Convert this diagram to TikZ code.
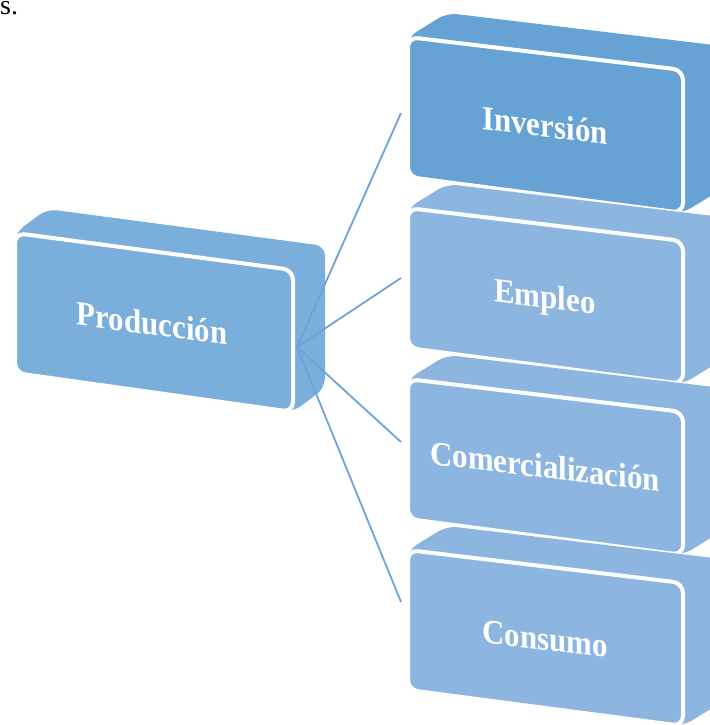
\documentclass[tikz,border=0pt]{standalone}
\usepackage{fontspec}
\setmainfont{Liberation Serif}
\definecolor{oscuro}{HTML}{67A2D5}
\definecolor{claro}{HTML}{8CB5E0}
\definecolor{medio}{HTML}{7AAEDB}
\definecolor{linea}{HTML}{6FA3D8}
\tikzset{
  cuerpo/.style={rounded corners=10bp},
  cara/.style={draw=white, line width=4bp, rounded corners=10bp},
  rotulo/.style={anchor=base, text=white, inner sep=0pt,
    font=\fontsize{31}{31}\selectfont\bfseries},
  enlace/.style={draw=linea, line width=1.8bp},
}
\begin{document}
\begin{tikzpicture}[x=1bp, y=-1bp]
            \clip (0, 0) rectangle (710, 725);

            \node[anchor=base west, inner sep=0pt, font=\fontsize{28}{28}\selectfont] (frase) at(0, 15){s.};

            % bloque de la izquierda
            \fill[medio, cuerpo](15, 233) -- (47, 209) -- (325, 246) -- (325, 388) -- (293, 412) -- (15, 373) -- cycle;
            \filldraw[fill=medio, cara](15, 233) -- (293, 270) -- (293, 412) -- (15, 373) -- cycle;
            \node[rotulo, yslant=-0.133, yscale=1.1] (prod) at(152, 335){Producción};

            \coordinate (centro) at(297, 347);
            \coordinate (inv-w) at(401, 113);
            \coordinate (emp-w) at(401, 278);
            \coordinate (com-w) at(401, 442);
            \coordinate (con-w) at(401, 602);

            \draw[enlace](centro) -- (inv-w);
            \draw[enlace](centro) -- (emp-w);
            \draw[enlace](centro) -- (com-w);
            \draw[enlace](centro) -- (con-w);

            % bloques de la derecha
            \fill[oscuro, cuerpo](408, 37) -- (447, 13) -- (722, 46) -- (722, 189) -- (683, 213) -- (408, 177) -- cycle;
            \filldraw[fill=oscuro, cara](408, 37) -- (683, 70) -- (683, 213) -- (408, 177) -- cycle;
            \node[rotulo, yslant=-0.12, yscale=1.1] (inv) at(545, 137){Inversión};

            \fill[claro, cuerpo](408, 208) -- (447, 184) -- (722, 217) -- (722, 360) -- (683, 384) -- (408, 348) -- cycle;
            \filldraw[fill=claro, cara](408, 208) -- (683, 241) -- (683, 384) -- (408, 348) -- cycle;
            \node[rotulo, yslant=-0.12, yscale=1.1] (emp) at(545, 308){Empleo};

            \fill[claro, cuerpo](408, 379) -- (447, 355) -- (722, 388) -- (722, 531) -- (683, 555) -- (408, 519) -- cycle;
            \filldraw[fill=claro, cara](408, 379) -- (683, 412) -- (683, 555) -- (408, 519) -- cycle;
            \node[rotulo, yslant=-0.12, yscale=1.1] (com) at(545, 478){Comercialización};

            \fill[claro, cuerpo](408, 550) -- (447, 526) -- (722, 559) -- (722, 702) -- (683, 726) -- (408, 690) -- cycle;
            \filldraw[fill=claro, cara](408, 550) -- (683, 583) -- (683, 726) -- (408, 690) -- cycle;
            \node[rotulo, yslant=-0.12, yscale=1.1] (con) at(545, 650){Consumo};

\end{tikzpicture}
\end{document}
